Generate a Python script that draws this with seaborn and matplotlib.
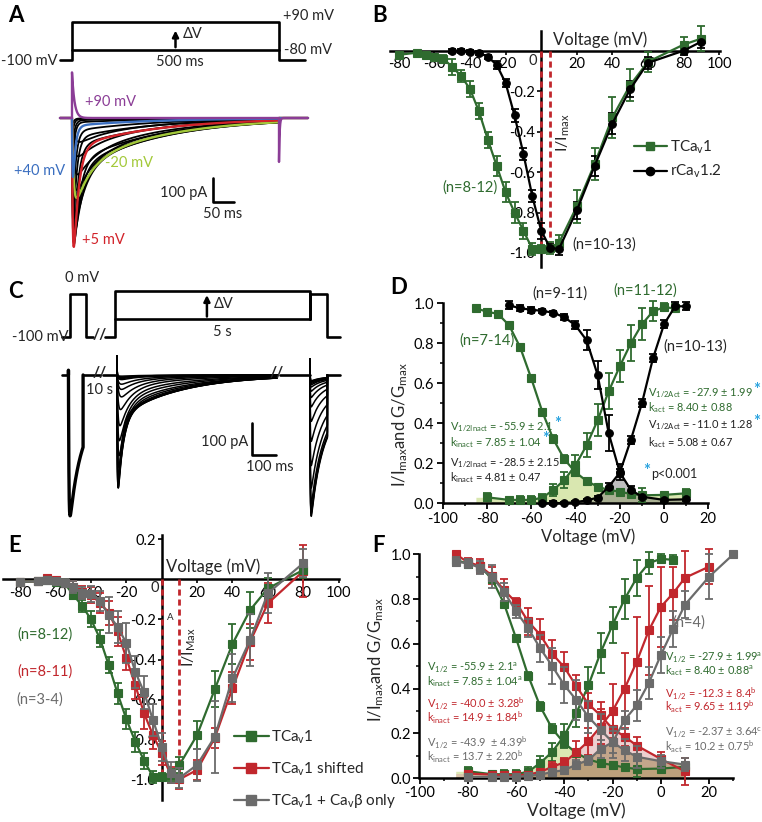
import numpy as np
import matplotlib
matplotlib.use('Agg')
import matplotlib.pyplot as plt
import matplotlib.text as mtext
import seaborn as sns
from matplotlib.lines import Line2D

sns.set_theme(style='ticks')
plt.rcParams['font.family'] = ['Lato', 'DejaVu Sans']
plt.rcParams['mathtext.fontset'] = 'custom'
plt.rcParams['mathtext.rm'] = 'Lato'
plt.rcParams['mathtext.it'] = 'Lato:italic'
plt.rcParams['mathtext.bf'] = 'Lato:bold'
plt.rcParams['axes.unicode_minus'] = False

# ---------------- colours ----------------
GREEN = '#2f6b2f'
RED = '#c1272d'
GRAY = '#6b6b6b'
AST = '#2aa3df'
LIME = '#a3c93a'
TRED = '#d2232a'
TBLUE = '#3b6fc0'
PURP = '#8b3d96'

# ---------------- data: panel B (I-V) ----------------
B_tca_v = [-80, -70, -65, -60, -55, -50, -45, -40, -35, -30, -25, -20, -15, -10, -5, 0, 5, 10, 20, 30, 40, 50, 60, 80, 90]
B_tca_i = [-0.02, -0.01, -0.02, -0.03, -0.04, -0.08, -0.125, -0.19, -0.30, -0.44, -0.57, -0.70, -0.80, -0.89, -0.98, -0.98,
           -0.975, -0.95, -0.77, -0.56, -0.33, -0.17, -0.055, 0.03, 0.06]
B_tca_e = [0.01, 0.01, 0.01, 0.015, 0.02, 0.04, 0.03, 0.04, 0.04, 0.04, 0.05, 0.05, 0.05, 0.04, 0.03, 0.02, 0.03, 0.04,
           0.08, 0.08, 0.10, 0.08, 0.05, 0.04, 0.06]
B_rca_v = [-50, -45, -40, -35, -30, -25, -20, -15, -10, -5, 0, 5, 10, 20, 30, 40, 50, 60, 80, 90]
B_rca_i = [0.0, 0.0, -0.005, -0.01, -0.03, -0.07, -0.16, -0.32, -0.51, -0.72, -0.89, -0.975, -0.98, -0.79, -0.57, -0.36,
           -0.19, -0.06, 0.0, 0.045]
B_rca_e = [0.01, 0.01, 0.01, 0.01, 0.01, 0.02, 0.02, 0.03, 0.03, 0.03, 0.04, 0.02, 0.03, 0.04, 0.05, 0.05, 0.04, 0.03,
           0.02, 0.03]
B_ref_v = [0, 5]

# ---------------- data: panel D ----------------
D_g_inact_v = [-85, -80, -75, -70, -65, -60, -55, -50, -45, -40, -35, -30, -25, -20, -15, -10, 0, 10]
D_g_inact = [0.975, 0.958, 0.947, 0.89, 0.78, 0.625, 0.458, 0.32, 0.22, 0.155, 0.112, 0.083, 0.067, 0.058, 0.047, 0.04,
             0.042, 0.05]
D_g_inact_e = [0.01, 0.005, 0.005, 0.01, 0.01, 0.01, 0.015, 0.02, 0.02, 0.02, 0.01, 0.01, 0.01, 0.01, 0.01, 0.035, 0.01,
               0.02]
D_g_act_v = [-80, -70, -65, -60, -55, -50, -45, -40, -35, -30, -25, -20, -15, -10, -5, 0, 5]
D_g_act = [0.03, 0.017, 0.017, 0.017, 0.028, 0.067, 0.117, 0.19, 0.29, 0.415, 0.56, 0.685, 0.80, 0.895, 0.96, 0.98, 0.975]
D_g_act_e = [0.02, 0.01, 0.02, 0.02, 0.02, 0.03, 0.04, 0.05, 0.06, 0.08, 0.09, 0.08, 0.09, 0.08, 0.05, 0.02, 0.02]
D_k_inact_v = [-70, -65, -60, -55, -50, -45, -40, -35, -30, -25, -20, -15, -10, 0, 10]
D_k_inact = [0.99, 0.975, 0.968, 0.962, 0.953, 0.93, 0.89, 0.815, 0.642, 0.35, 0.155, 0.067, 0.033, 0.017, 0.02]
D_k_inact_e = [0.02, 0.015, 0.015, 0.01, 0.01, 0.015, 0.02, 0.05, 0.07, 0.09, 0.04, 0.02, 0.01, 0.01, 0.01]
D_k_act_v = [-55, -50, -45, -40, -35, -30, -25, -20, -15, -10, -5, 0, 5, 10]
D_k_act = [0.0, 0.0, 0.002, 0.005, 0.015, 0.028, 0.083, 0.153, 0.317, 0.50, 0.725, 0.895, 0.985, 0.985]
D_k_act_e = [0.005, 0.01, 0.005, 0.005, 0.005, 0.01, 0.02, 0.02, 0.02, 0.02, 0.02, 0.02, 0.02, 0.02]

# ---------------- data: panel E ----------------
E_v = [-80, -70, -65, -60, -55, -50, -45, -40, -35, -30, -25, -20, -15, -10, -5, 0, 5, 10, 20, 30, 40, 50, 60, 80]
E_tca_i = [-0.012, -0.01, -0.005, -0.012, -0.02, -0.078, -0.133, -0.2, -0.295, -0.428, -0.569, -0.698, -0.809, -0.904,
           -0.984, -0.987, -0.975, -0.925, -0.776, -0.548, -0.322, -0.153, -0.045, 0.046]
E_tca_e = [0.01, 0.01, 0.01, 0.01, 0.02, 0.02, 0.03, 0.04, 0.04, 0.04, 0.05, 0.05, 0.05, 0.04, 0.03, 0.02, 0.03, 0.04,
           0.07, 0.09, 0.1, 0.09, 0.05, 0.04]
E_shift_i = [-0.012, -0.01, 0.005, -0.005, -0.02, -0.037, -0.062, -0.078, -0.117, -0.166, -0.26, -0.394, -0.527, -0.668,
             -0.776, -0.867, -0.975, -0.997, -0.95, -0.79, -0.543, -0.311, -0.12, 0.04]
E_shift_e = [0.01, 0.01, 0.01, 0.01, 0.02, 0.03, 0.03, 0.04, 0.05, 0.06, 0.07, 0.06, 0.07, 0.08, 0.07, 0.06, 0.04, 0.05,
             0.05, 0.05, 0.08, 0.09, 0.1, 0.13]
E_beta_i = [-0.012, -0.01, -0.005, -0.008, -0.02, -0.037, -0.07, -0.073, -0.11, -0.178, -0.236, -0.319, -0.46, -0.564,
            -0.701, -0.834, -0.963, -0.99, -0.925, -0.785, -0.493, -0.302, -0.07, 0.08]
E_beta_e = [0.01, 0.01, 0.01, 0.01, 0.02, 0.03, 0.03, 0.04, 0.05, 0.09, 0.08, 0.1, 0.08, 0.08, 0.08, 0.07, 0.05, 0.05,
            0.08, 0.18, 0.12, 0.13, 0.1, 0.07]
E_ref_v = [0, 10]

# ---------------- data: panel F ----------------
F_inact_v = [-85, -80, -75, -70, -65, -60, -55, -50, -45, -40, -35, -30, -25, -20, -15, -10, 0, 10]
F_r_inact = [1.0, 0.965, 0.948, 0.905, 0.84, 0.785, 0.70, 0.64, 0.555, 0.495, 0.41, 0.33, 0.28, 0.22, 0.185, 0.145,
             0.085, 0.03]
F_r_inact_e = [0.01, 0.02, 0.03, 0.04, 0.05, 0.02, 0.06, 0.07, 0.06, 0.07, 0.05, 0.05, 0.06, 0.06, 0.04, 0.04, 0.03, 0.06]
F_b_inact = [0.967, 0.96, 0.94, 0.90, 0.833, 0.745, 0.67, 0.58, 0.50, 0.415, 0.348, 0.273, 0.215, 0.16, 0.124, 0.095,
             0.075, 0.06]
F_b_inact_e = [0.02, 0.02, 0.03, 0.05, 0.04, 0.03, 0.04, 0.06, 0.08, 0.08, 0.09, 0.07, 0.07, 0.07, 0.05, 0.05, 0.03, 0.03]
F_r_act_v = [-80, -70, -65, -60, -55, -50, -45, -40, -35, -30, -25, -20, -15, -10, -5, 0, 5, 10, 20]
F_r_act = [0.02, 0.015, 0.012, 0.012, 0.015, 0.027, 0.05, 0.07, 0.115, 0.165, 0.23, 0.30, 0.40, 0.52, 0.66, 0.765, 0.825,
           0.895, 0.945]
F_r_act_e = [0.01, 0.01, 0.01, 0.01, 0.01, 0.01, 0.02, 0.02, 0.05, 0.06, 0.08, 0.12, 0.16, 0.2, 0.2, 0.18, 0.12, 0.12, 0.08]
F_b_act_v = [-80, -70, -65, -60, -55, -50, -45, -40, -35, -30, -25, -20, -15, -10, -5, 0, 5, 10, 20, 30]
F_b_act = [0.005, 0.005, 0.005, 0.005, 0.01, 0.015, 0.027, 0.035, 0.06, 0.08, 0.13, 0.16, 0.26, 0.325, 0.425, 0.55,
           0.665, 0.775, 0.90, 1.0]
F_b_act_e = [0.005, 0.005, 0.005, 0.005, 0.005, 0.01, 0.01, 0.01, 0.02, 0.02, 0.04, 0.05, 0.04, 0.07, 0.07, 0.08, 0.08,
             0.06, 0.1, 0.0]

# ---------------- data: panel A (current traces) ----------------
A_prot_t = [-29, 0, 0, 500, 500, 563]
A_prot_v = [-100, -100, 90, 90, -100, -100]
A_prot_low_t = [0, 500]
A_prot_low_v = [-80, -80]
A_step_mV = [-40, -35, -30, -25, -20, -15, -10, -5, 0, 5, 10, 20, 30, 40, 50, 60, 70, 80, 90]
A_peak_pA = [-100, -160, -235, -300, -333, -420, -470, -505, -525, -537, -515, -440, -340, -246, -160, -95, -50, -20, 0]
A_tau_act = [6, 5, 4.5, 4, 4, 3.5, 3, 2.5, 2.2, 2, 1.8, 1.5, 1.3, 1.2, 1, 1, 1, 1, 1]
A_tau_fast = [60, 50, 45, 40, 35, 26, 20, 16, 14, 12, 10, 8, 7, 6, 5, 5, 4, 4, 4]
A_frac_fast = [0.35, 0.4, 0.45, 0.5, 0.5, 0.6, 0.65, 0.7, 0.75, 0.85, 0.85, 0.88, 0.9, 0.92, 0.93, 0.94, 0.95, 0.95, 0.95]
A_tail_pA = [0, 0, 0, 0, 0, 0, 0, 0, 0, 0, 0, 0, 0, 0, 0, 0, 0, 0, 183]
A_onset_pA = [0, 0, 0, 0, 0, 0, 0, 0, 0, 0, 0, 0, 0, 0, 0, 0, 0, 0, 190]
A_colors = {-20: LIME, 5: TRED, 40: TBLUE, 90: PURP}
A_labels = {90: '+90 mV', 40: '+40 mV', -20: '-20 mV', 5: '+5 mV'}

# ---------------- data: panel C ----------------
C_prot_t1 = [29, 62, 62, 129, 129, 158]
C_prot_v1 = [-100, -100, 0, 0, -100, -100]
C_prot_t2 = [208, 250, 250, 1063, 1063, 1063, 1135, 1135, 1187]
C_prot_v2 = [-100, -100, 10, 10, -80, 0, 0, -100, -100]
C_prot_low_t = [250, 1063]
C_prot_low_v = [-80, -80]
C_pre_peak_pA = -440
C_step_Imax_pA = 360
C_test_Imax_pA = 453
C_step_tau_act = [8, 8, 8, 8, 8, 8, 8, 8, 6, 5, 4, 3.5, 3, 2.5, 2, 2, 1.8, 1.6]
C_step_tau_fast = [60, 60, 60, 60, 60, 60, 60, 60, 50, 40, 35, 30, 28, 25, 22, 20, 18, 16]

W, H = 762, 822
fig = plt.figure(figsize=(W / 100, H / 100), dpi=100)


def ax_px(x0, y0, x1, y1):
    return fig.add_axes([x0 / W, 1 - y1 / H, (x1 - x0) / W, (y1 - y0) / H])


def ftxt(x, y, s, **kw):
    kw.setdefault('va', 'center')
    kw.setdefault('ha', 'left')
    return fig.text(x / W, 1 - y / H, s, **kw)


def series(ax, x, y, e, color, marker='s', ms=5.2, lw=1.6, z=3):
    ax.errorbar(x, y, yerr=e, fmt='none', ecolor=color, elinewidth=1.3, capsize=2.6, capthick=1.3,
                zorder=z, clip_on=False)
    sns.lineplot(x=x, y=y, ax=ax, color=color, marker=marker, markersize=ms, markeredgecolor=color,
                 markeredgewidth=0.8, lw=lw, sort=False, estimator=None, legend=False, zorder=z + 0.1,
                 clip_on=False)


def proto_scale(a, b):
    def fwd(v):
        v = np.asarray(v, dtype=float)
        return np.where(v <= -80, (v + 100) * a, 20 * a + (v + 80) * b)

    def inv(f):
        f = np.asarray(f, dtype=float)
        return np.where(f <= 20 * a, f / a - 100, (f - 20 * a) / b - 80)
    return fwd, inv


FS = 10.5   # general label size
FSA = 7.9   # annotation size

# ======================= PANEL A =======================
tx0, tx1 = 55, 310
t_per_px = 1 / 0.414
A_xlim = ((tx0 - 72) * t_per_px, (tx1 - 72) * t_per_px)

axAp = ax_px(tx0, 12, tx1, 66)
fa, ia = proto_scale(0.5, 28 / 170)
axAp.set_yscale('function', functions=(fa, ia))
axAp.set_ylim(float(ia(-6)), float(ia(48)))
axAp.set_xlim(*A_xlim)
sns.lineplot(x=A_prot_t, y=A_prot_v, ax=axAp, color='black', lw=1.9, sort=False, estimator=None)
sns.lineplot(x=A_prot_low_t, y=A_prot_low_v, ax=axAp, color='black', lw=1.9, sort=False, estimator=None)
axAp.annotate('', xy=(250, 55), xytext=(250, -80),
              arrowprops=dict(arrowstyle='-|>', color='black', lw=1.8, mutation_scale=9))
axAp.set_axis_off()
ftxt(183, 34, 'ΔV', fontsize=FS)
ftxt(180, 62, '500 ms', fontsize=FS, ha='center')
ftxt(57, 61, '-100 mV', fontsize=FS, ha='right')
ftxt(283, 16, '+90 mV', fontsize=FS)
ftxt(284, 50, '-80 mV', fontsize=FS)

axA = ax_px(tx0, 66, tx1, 258)
axA.set_xlim(*A_xlim)
axA.set_ylim(-(258 - 118) / 0.24, (118 - 66) / 0.24)
tA = np.linspace(0, 500, 1501)
t_tail = np.linspace(500, 570, 300)
order = [i for i, v in enumerate(A_step_mV) if v not in A_colors] + \
        [A_step_mV.index(v) for v in (-20, 5, 40, 90)]
for i in order:
    v = A_step_mV[i]
    raw = (1 - np.exp(-tA / A_tau_act[i])) * (A_frac_fast[i] * np.exp(-tA / A_tau_fast[i]) +
                                               (1 - A_frac_fast[i]) * np.exp(-tA / 200.0))
    cur = A_peak_pA[i] * raw / raw.max() + A_onset_pA[i] * np.exp(-tA / 6.0)
    tail = -A_tail_pA[i] * np.exp(-(t_tail - 500) / 1.5)
    tt = np.concatenate([[-29, 0], tA, t_tail])
    ii = np.concatenate([[0, 0], cur, tail])
    col = A_colors.get(v, 'black')
    sns.lineplot(x=tt, y=ii, ax=axA, color=col, lw=1.3 if col == 'black' else 1.7, sort=False, estimator=None)
sb_t0 = (213 - 72) * t_per_px
sns.lineplot(x=[sb_t0, sb_t0, sb_t0 + 50], y=[-250, -350, -350], ax=axA, color='black', lw=1.9, sort=False,
             estimator=None)
axA.set_axis_off()
ftxt(207, 193, '100 pA', fontsize=FS, ha='right')
ftxt(223, 214, '50 ms', fontsize=FS, ha='center')
ftxt(110, 102, A_labels[90], color=PURP, fontsize=FS, ha='center')
ftxt(40, 171, A_labels[40], color=TBLUE, fontsize=FS, ha='center')
ftxt(129, 163, A_labels[-20], color=LIME, fontsize=FS, ha='center')
ftxt(103, 240, A_labels[5], color=TRED, fontsize=FS, ha='center')

# ======================= PANEL C =======================
cx0, cx1 = 55, 345
C_xlim = (0, (cx1 - cx0) / 0.24)
axCp = ax_px(cx0, 280, cx1, 345)
fc, ic = proto_scale(17.4 / 20, 28.6 / 90)
axCp.set_yscale('function', functions=(fc, ic))
axCp.set_ylim(float(ic(-8.3)), float(ic(56.7)))
axCp.set_xlim(*C_xlim)
for tt_, vv_ in ((C_prot_t1, C_prot_v1), (C_prot_t2, C_prot_v2), (C_prot_low_t, C_prot_low_v)):
    sns.lineplot(x=tt_, y=vv_, ax=axCp, color='black', lw=1.9, sort=False, estimator=None)
axCp.annotate('', xy=(633, 5), xytext=(633, -80),
              arrowprops=dict(arrowstyle='-|>', color='black', lw=1.8, mutation_scale=9))
axCp.set_axis_off()
ftxt(214, 304, 'ΔV', fontsize=FS)
ftxt(222, 332, '5 s', fontsize=FS, ha='center')
ftxt(82, 278, '0 mV', fontsize=FS, ha='center')
ftxt(68, 337, '-100 mV', fontsize=FS, ha='right')
ftxt(100, 335, '//', fontsize=11, ha='center', fontweight='bold')

axC = ax_px(cx0, 345, cx1, 525)
axC.set_xlim(*C_xlim)
axC.set_ylim(-(525 - 375) / 0.32, (375 - 345) / 0.32)


def pulse(t0, dur, peak, ta, tf, w, ts, spike):
    t = np.linspace(0, dur, 1200)
    raw = (1 - np.exp(-t / ta)) * (w * np.exp(-t / tf) + (1 - w) * np.exp(-t / ts))
    cur = peak * raw / raw.max() + spike * np.exp(-t / 0.8)
    return np.concatenate([t0 + t, [t0 + dur]]), np.concatenate([cur, [0]])


def cline(t, i, lw=1.2):
    sns.lineplot(x=t, y=i, ax=axC, color='black', lw=lw, sort=False, estimator=None)


cline([28, 56], [0, 0], 1.9)
cline([117, 187], [0, 0], 1.9)
cline([200, 258], [0, 0], 1.9)
cline([937, 1062], [0, 0], 1.9)
cline([1135, 1187], [0, 0], 1.9)
t_, i_ = pulse(56, 61, C_pre_peak_pA, 2.0, 40, 0.6, 250, 15)
cline(np.concatenate([[56], t_]), np.concatenate([[0], i_]), 2.4)
step_v = [v for v in B_tca_v if v <= 10]
for k, v in enumerate(step_v):
    pk = B_tca_i[B_tca_v.index(v)] * C_step_Imax_pA
    t_, i_ = pulse(258, 667, pk, C_step_tau_act[k], C_step_tau_fast[k], 0.7, 250, 60)
    cline(np.concatenate([[258], t_]), np.concatenate([[0], i_]), 1.1)
for k, frac in enumerate(D_g_inact):
    t_, i_ = pulse(1062, 73, -frac * C_test_Imax_pA, 1.5, 40, 0.6, 250, 50)
    cline(np.concatenate([[1062], t_]), np.concatenate([[0], i_]), 1.1)
sbc = (252 - cx0) / 0.24
cline([sbc, sbc, sbc + 100], [-150, -250, -250], 1.9)
axC.set_axis_off()
ftxt(248, 442, '100 pA', fontsize=FS, ha='right')
ftxt(270, 467, '100 ms', fontsize=FS, ha='center')
ftxt(100, 390, '10 s', fontsize=FS, ha='center')
ftxt(100, 373, '//', fontsize=11, ha='center', fontweight='bold')
ftxt(277, 373, '//', fontsize=11, ha='center', fontweight='bold')

# ======================= PANEL B =======================
axB = ax_px(390, 30.7, 720, 266.7)
axB.set_facecolor('none')
axB.set_xlim(-85, 100.5)
axB.set_ylim(-1.068, 0.099)
axB.spines['left'].set_position(('data', 0))
axB.spines['bottom'].set_position(('data', 0))
axB.spines['top'].set_visible(False)
axB.spines['right'].set_visible(False)
for s in ('left', 'bottom'):
    axB.spines[s].set_linewidth(1.8)
    axB.spines[s].set_color('black')
axB.set_xticks([-80, -60, -40, -20, 0, 20, 40, 60, 80, 100])
axB.set_xticklabels(['-80', '-60', '-40', '-20', '', '20', '40', '60', '80', '100'])
axB.set_yticks([-1.0, -0.8, -0.6, -0.4, -0.2])
axB.set_yticklabels(['-1.0', '-0.8', '-0.6', '-0.4', '-0.2'])
axB.tick_params(length=3, width=1.2, labelsize=FS, pad=1.5, colors='black')
for xr in B_ref_v:
    axB.plot([xr, xr], [0, -1.0], color=RED, ls=(0, (2.2, 1.4)), lw=2.0, zorder=2.8)
series(axB, B_tca_v, B_tca_i, B_tca_e, GREEN, 's')
series(axB, B_rca_v, B_rca_i, B_rca_e, 'black', 'o', ms=5.5)
ftxt(533, 61, '0', fontsize=FS, ha='center')
ftxt(600, 40, 'Voltage (mV)', fontsize=12, ha='center')
ftxt(563, 133, r'I/I$_{\rm max}$', fontsize=11.5, ha='center', rotation=90)
ftxt(470, 188, '(n=8-12)', fontsize=FS, color=GREEN, ha='center')
ftxt(604, 245, '(n=10-13)', fontsize=FS, ha='center')
hB = [Line2D([0], [0], color=GREEN, marker='s', ms=6, lw=1.6),
      Line2D([0], [0], color='black', marker='o', ms=6, lw=1.6)]
axB.legend(hB, [r'TCa$_{\rm v}$1', r'rCa$_{\rm v}$1.2'], loc='upper left',
           bbox_to_anchor=(626 / W, 1 - 131 / H), bbox_transform=fig.transFigure, frameon=False,
           fontsize=11, handlelength=2.2, handletextpad=0.15, labelspacing=0.45, borderpad=0)

# ======================= PANEL D =======================
axD = ax_px(442.7, 303.3, 708.3, 503.3)
axD.set_facecolor('none')
axD.set_xlim(-100, 20)
axD.set_ylim(0, 1.0)
sns.despine(ax=axD)
for s in ('left', 'bottom'):
    axD.spines[s].set_linewidth(1.8)
    axD.spines[s].set_color('black')
axD.set_xticks([-100, -80, -60, -40, -20, 0, 20])
axD.set_xticks([-90, -70, -50, -30, -10, 10], minor=True)
axD.set_yticks([0.0, 0.2, 0.4, 0.6, 0.8, 1.0])
axD.set_yticks([0.1, 0.3, 0.5, 0.7, 0.9], minor=True)
axD.set_yticklabels(['0.0', '0.2', '0.4', '0.6', '0.8', '1.0'])
axD.tick_params(which='major', length=4, width=1.3, labelsize=FS, pad=2, colors='black')
axD.tick_params(which='minor', length=2.5, width=1.1, colors='black')
grid = np.linspace(-85, 10, 400)
g_win = np.minimum(np.interp(grid, D_g_act_v, D_g_act), np.interp(grid, D_g_inact_v, D_g_inact))
k_win = np.minimum(np.interp(grid, D_k_act_v, D_k_act), np.interp(grid, D_k_inact_v, D_k_inact))
axD.fill_between(grid, 0, g_win, color='#d3e3a2', alpha=0.85, lw=0, zorder=1)
axD.fill_between(grid, 0, k_win, color='#6f6f6f', alpha=0.45, lw=0, zorder=1.2)
series(axD, D_g_inact_v, D_g_inact, D_g_inact_e, GREEN, 's')
series(axD, D_g_act_v, D_g_act, D_g_act_e, GREEN, 's')
series(axD, D_k_inact_v, D_k_inact, D_k_inact_e, 'black', 'o', ms=5.5)
series(axD, D_k_act_v, D_k_act, D_k_act_e, 'black', 'o', ms=5.5)
ftxt(400, 425, r'I/I$_{\rm max}$and G/G$_{\rm max}$', fontsize=12, ha='center', rotation=90)
ftxt(588, 537, 'Voltage (mV)', fontsize=12, ha='center')
ftxt(560, 294, '(n=9-11)', fontsize=FS, ha='center')
ftxt(645, 291, '(n=11-12)', fontsize=FS, ha='center', color=GREEN)
ftxt(487, 341, '(n=7-14)', fontsize=FS, ha='center', color=GREEN)
ftxt(695, 347, '(n=10-13)', fontsize=FS, ha='center')


def star(t):
    return fig.add_artist(mtext.Annotation('*', xy=(1, 1), xycoords=t, xytext=(0.2, 3),
                                           textcoords='offset points', color=AST, fontsize=12,
                                           ha='left', va='top', fontweight='bold', zorder=20))


t1 = ftxt(450, 427, r'V$_{\rm 1/2Inact}$ = -55.9 ± 2.1', fontsize=FSA, color=GREEN, zorder=15)
t2 = ftxt(450, 443, r'k$_{\rm inact}$ = 7.85 ± 1.04', fontsize=FSA, color=GREEN, zorder=15)
ftxt(450, 463, r'V$_{\rm 1/2Inact}$ = -28.5 ± 2.15', fontsize=FSA, color='#222222')
ftxt(450, 478, r'k$_{\rm inact}$ = 4.81 ± 0.47', fontsize=FSA, color='#222222')
t3 = ftxt(648, 393, r'V$_{\rm 1/2Act}$ = -27.9 ± 1.99', fontsize=FSA, color=GREEN)
ftxt(648, 408, r'k$_{\rm act}$ = 8.40 ± 0.88', fontsize=FSA, color=GREEN)
t4 = ftxt(648, 425, r'V$_{\rm 1/2Act}$ = -11.0 ± 1.28', fontsize=FSA, color='#222222')
ftxt(648, 443, r'k$_{\rm act}$ = 5.08 ± 0.67', fontsize=FSA, color='#222222')
for t in (t1, t2, t3, t4):
    star(t)
ftxt(643, 471, '*', fontsize=12, color=AST, fontweight='bold')
ftxt(651, 474, 'p<0.001', fontsize=9, color='#222222')

# ======================= PANEL E =======================
axE = ax_px(2.7, 535, 338.5, 800)
axE.set_facecolor('none')
axE.set_xlim(-90, 100)
axE.set_ylim(-1.1, 0.221)
axE.spines['left'].set_position(('data', 0))
axE.spines['bottom'].set_position(('data', 0))
axE.spines['top'].set_visible(False)
axE.spines['right'].set_visible(False)
for s in ('left', 'bottom'):
    axE.spines[s].set_linewidth(1.8)
    axE.spines[s].set_color('black')
axE.set_xticks([-80, -60, -40, -20, 0, 20, 40, 60, 80, 100])
axE.set_xticklabels(['-80', '-60', '-40', '-20', '', '20', '40', '60', '80', '100'])
axE.set_yticks([-1.0, -0.8, -0.6, -0.4, -0.2, 0.2])
axE.set_yticklabels(['-1.0', '-0.8', '-0.6', '-0.4', '-0.2', '0.2'])
axE.tick_params(length=3, width=1.2, labelsize=FS, pad=1.5, colors='black')
for xr in E_ref_v:
    axE.plot([xr, xr], [0, -1.0], color=RED, ls=(0, (2.2, 1.4)), lw=2.0, zorder=2.8)
series(axE, E_v, E_shift_i, E_shift_e, RED, 's')
series(axE, E_v, E_tca_i, E_tca_e, GREEN, 's')
series(axE, E_v, E_beta_i, E_beta_e, GRAY, 's', z=3.2)
ftxt(155, 588, '0', fontsize=FS, ha='center')
ftxt(213, 567, 'Voltage (mV)', fontsize=12, ha='center')
ftxt(189, 647, r'I/I$_{\rm Max}$', fontsize=11.5, ha='center', rotation=90)
ftxt(170, 617, 'A', fontsize=7, ha='center')
ftxt(45, 635, '(n=8-12)', fontsize=FS, ha='center', color=GREEN)
ftxt(45, 672, '(n=8-11)', fontsize=FS, ha='center', color=RED)
ftxt(40, 700, '(n=3-4)', fontsize=FS, ha='center', color=GRAY)
hE = [Line2D([0], [0], color=c, marker='s', ms=6.5, lw=1.6) for c in (GREEN, RED, GRAY)]
axE.legend(hE, [r'TCa$_{\rm v}$1', r'TCa$_{\rm v}$1 shifted', r'TCa$_{\rm v}$1 + Ca$_{\rm v}$β only'],
           loc='upper left', bbox_to_anchor=(226 / W, 1 - 721 / H), bbox_transform=fig.transFigure,
           frameon=False, fontsize=11, handlelength=2.3, handletextpad=0.15, labelspacing=0.95, borderpad=0)

# ======================= PANEL F =======================
axF = ax_px(419.5, 554.3, 733.3, 778)
axF.set_facecolor('none')
axF.set_xlim(-100, 30)
axF.set_ylim(0, 1.0)
sns.despine(ax=axF)
for s in ('left', 'bottom'):
    axF.spines[s].set_linewidth(1.8)
    axF.spines[s].set_color('black')
axF.set_xticks([-100, -80, -60, -40, -20, 0, 20])
axF.set_xticks([-90, -70, -50, -30, -10, 10, 30], minor=True)
axF.set_yticks([0.0, 0.2, 0.4, 0.6, 0.8, 1.0])
axF.set_yticks([0.1, 0.3, 0.5, 0.7, 0.9], minor=True)
axF.set_yticklabels(['0.0', '0.2', '0.4', '0.6', '0.8', '1.0'])
axF.tick_params(which='major', length=4, width=1.3, labelsize=FS, pad=2, colors='black')
axF.tick_params(which='minor', length=2.5, width=1.1, colors='black')
gridF = np.linspace(-85, 10, 400)
r_win = np.minimum(np.interp(gridF, F_r_act_v, F_r_act), np.interp(gridF, F_inact_v, F_r_inact))
b_win = np.minimum(np.interp(gridF, F_b_act_v, F_b_act), np.interp(gridF, F_inact_v, F_b_inact))
axF.fill_between(gridF, 0, g_win, color='#d3e3a2', alpha=0.8, lw=0, zorder=1)
axF.fill_between(gridF, 0, r_win, color='#dca3a3', alpha=0.5, lw=0, zorder=1.1)
axF.fill_between(gridF, 0, b_win, color='#a88a5e', alpha=0.6, lw=0, zorder=1.2)
series(axF, D_g_inact_v, D_g_inact, D_g_inact_e, GREEN, 's')
series(axF, D_g_act_v, D_g_act, D_g_act_e, GREEN, 's')
series(axF, F_inact_v, F_r_inact, F_r_inact_e, RED, 's')
series(axF, F_r_act_v, F_r_act, F_r_act_e, RED, 's')
series(axF, F_inact_v, F_b_inact, F_b_inact_e, GRAY, 's', z=3.3)
series(axF, F_b_act_v, F_b_act, F_b_act_e, GRAY, 's', z=3.3)
ftxt(376, 660, r'I/I$_{\rm max}$and G/G$_{\rm max}$', fontsize=12, ha='center', rotation=90)
ftxt(576, 811, 'Voltage (mV)', fontsize=12.5, ha='center')
ftxt(689, 623, '(n=4)', fontsize=FS, ha='center', color=GRAY)
ftxt(427, 668, r'V$_{\rm 1/2}$ = -55.9 ± 2.1$^{\rm a}$', fontsize=FSA, color=GREEN)
ftxt(427, 682, r'k$_{\rm inact}$ = 7.85 ± 1.04$^{\rm a}$', fontsize=FSA, color=GREEN)
ftxt(427, 704, r'V$_{\rm 1/2}$ = -40.0 ± 3.28$^{\rm b}$', fontsize=FSA, color=RED)
ftxt(427, 718, r'k$_{\rm inact}$ = 14.9 ± 1.84$^{\rm b}$', fontsize=FSA, color=RED)
ftxt(427, 743, r'V$_{\rm 1/2}$ = -43.9  ± 4.39$^{\rm b}$', fontsize=FSA, color=GRAY)
ftxt(427, 757, r'k$_{\rm inact}$ = 13.7 ± 2.20$^{\rm b}$', fontsize=FSA, color=GRAY)
ftxt(665, 658, r'V$_{\rm 1/2}$ = -27.9 ± 1.99$^{\rm a}$', fontsize=FSA, color=GREEN)
ftxt(665, 671, r'k$_{\rm act}$ = 8.40 ± 0.88$^{\rm a}$', fontsize=FSA, color=GREEN)
ftxt(665, 694, r'V$_{\rm 1/2}$ = -12.3 ± 8.4$^{\rm b}$', fontsize=FSA, color=RED)
ftxt(665, 707, r'k$_{\rm act}$ = 9.65 ± 1.19$^{\rm b}$', fontsize=FSA, color=RED)
ftxt(665, 733, r'V$_{\rm 1/2}$ = -2.37 ± 3.64$^{\rm c}$', fontsize=FSA, color=GRAY)
ftxt(665, 747, r'k$_{\rm act}$ = 10.2 ± 0.75$^{\rm b}$', fontsize=FSA, color=GRAY)

for (lx, ly, L) in ((8, 15, 'A'), (372, 15, 'B'), (8, 291, 'C'), (390, 287, 'D'), (8, 546, 'E'), (372, 546, 'F')):
    ftxt(lx, ly, L, fontsize=16, fontweight='bold', color='black')

fig.savefig('out.png', dpi=100)
